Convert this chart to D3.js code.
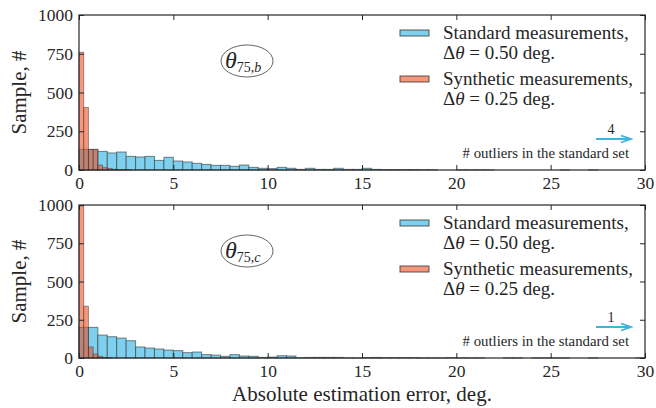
<!DOCTYPE html>
<html><head><meta charset="utf-8">
<script src="https://cdn.jsdelivr.net/npm/d3@7"></script>
<style>
html,body{margin:0;padding:0;background:#fff;}
svg text{font-family:"Liberation Serif","Times New Roman",Tinos,"DejaVu Serif",serif !important;}
</style></head>
<body><svg id="c" width="656" height="408"></svg>
<script>
// ---------- data ----------
const xTicks = [0,5,10,15,20,25,30];
const yTicks = [0,250,500,750,1000];
const stdBinWidth = 0.5;
const synBinWidth = 0.25;
// panel (b): standard measurements, counts per 0.5 deg bin from 0 to 30
const stdB = [133,133,120,110,116,88,84,88,62,82,
              58,52,43,36,30,30,24,32,17,11,
              9,17,11,4,11,4,4,11,4,4,
              11,4,3,3,3,3,2,2,0,0,
              1,1,1,1,0,0,0,0,0,0,
              0,1,0,0,1,0,0,0,0,0];
// panel (b): synthetic measurements, counts per 0.25 deg bin
const synB = [760,404,133,133,32,15,9,5,3,2,1];
// panel (c)
const stdC = [200,200,150,139,130,113,72,65,59,52,
              48,35,39,22,19,11,22,13,11,4,
              6,15,13,2,4,4,4,4,1,1,
              3,4,2,2,2,2,1,1,1,2,
              1,1,1,0,0,1,1,0,1,1,
              1,1,0,0,1,0,0,0,0,1];
const synC = [993,339,72,26,11,3,1];
const subLabels = ["b","c"];
const outliers = [4,1];
const legendLabels = ["Standard measurements,","Synthetic measurements,"];
const legendDeltas = ["0.50","0.25"];

// ---------- drawing ----------
const svg = d3.select("#c");
const axisCol = "#262626";
const blueFill = "rgb(125,208,238)";
const orangeFill = "rgb(240,75,30)";
const arrowCol = "#3cb4dc";
const x = d3.scaleLinear().domain([0,30]).range([79,645]);
const panels = [
  {std:stdB, syn:synB, top:15, bottom:170},
  {std:stdC, syn:synC, top:205, bottom:358}
];

panels.forEach((p,pi)=>{
  const y = d3.scaleLinear().domain([0,1000]).range([p.bottom,p.top]);
  const g = svg.append("g");
  const stdData = p.std.map((v,i)=>({v,i})).filter(d=>d.v>0);
  const synData = p.syn.map((v,i)=>({v,i})).filter(d=>d.v>0);
  // standard bars
  g.append("g").selectAll("rect").data(stdData)
   .join("rect")
   .attr("x",d=>x(d.i*stdBinWidth)).attr("width",x(stdBinWidth)-x(0))
   .attr("y",d=>y(d.v)).attr("height",d=>y(0)-y(d.v))
   .attr("fill",blueFill).attr("stroke","#333").attr("stroke-opacity",0.6).attr("stroke-width",1);
  // synthetic bars
  g.append("g").selectAll("rect").data(synData)
   .join("rect")
   .attr("x",d=>x(d.i*synBinWidth)).attr("width",x(synBinWidth)-x(0))
   .attr("y",d=>y(d.v)).attr("height",d=>y(0)-y(d.v))
   .attr("fill",orangeFill).attr("fill-opacity",0.58)
   .attr("stroke","#333").attr("stroke-opacity",0.5).attr("stroke-width",0.9);

  // axes
  const fmt = d3.format("d");
  const ax = g.append("g").attr("transform",`translate(0,${p.bottom})`)
    .call(d3.axisBottom(x).tickValues(xTicks).tickSizeInner(-5).tickSizeOuter(0).tickPadding(7).tickFormat(fmt));
  const axT = g.append("g").attr("transform",`translate(0,${p.top})`)
    .call(d3.axisTop(x).tickValues(xTicks).tickSizeInner(-5).tickSizeOuter(0).tickFormat(""));
  const ay = g.append("g").attr("transform",`translate(${x(0)},0)`)
    .call(d3.axisLeft(y).tickValues(yTicks).tickSizeInner(-5).tickSizeOuter(0).tickPadding(6).tickFormat(fmt));
  const ayR = g.append("g").attr("transform",`translate(${x(30)},0)`)
    .call(d3.axisRight(y).tickValues(yTicks).tickSizeInner(-5).tickSizeOuter(0).tickFormat(""));
  [ax,axT,ay,ayR].forEach(a=>{
    a.select(".domain").remove();
    a.selectAll("line").attr("stroke",axisCol);
    a.selectAll("text").attr("fill",axisCol).attr("font-size","17.5px");
  });
  g.append("rect").attr("x",x(0)).attr("y",p.top).attr("width",x(30)-x(0)).attr("height",p.bottom-p.top)
   .attr("fill","none").attr("stroke",axisCol).attr("stroke-width",1.2);

  // y label
  g.append("text").attr("transform",`translate(26,${(p.top+p.bottom)/2}) rotate(-90)`)
   .attr("text-anchor","middle").attr("font-size","21px").attr("fill",axisCol).text("Sample, #");

  // legend
  const lt = p.top;
  [0,1].forEach(k=>{
    const ly = lt + 18 + k*46;
    g.append("rect").attr("x",400).attr("y",ly-3).attr("width",29).attr("height",6)
     .attr("fill",k===0?blueFill:orangeFill).attr("fill-opacity",k===0?1:0.58)
     .attr("stroke","#333").attr("stroke-opacity",0.8);
    g.append("text").attr("x",443).attr("y",ly+6).attr("font-size","19px").attr("fill",axisCol)
     .text(legendLabels[k]);
    const t2 = g.append("text").attr("x",443).attr("y",ly+26).attr("font-size","19px").attr("fill",axisCol);
    t2.append("tspan").text("Δ");
    t2.append("tspan").attr("font-style","italic").text("θ");
    t2.append("tspan").text(" = " + legendDeltas[k] + " deg.");
  });

  // ellipse label
  const ey = p.top + 46;
  g.append("ellipse").attr("cx",247).attr("cy",ey).attr("rx",26).attr("ry",16)
   .attr("fill","none").attr("stroke","#555").attr("stroke-width",0.9);
  const et = g.append("text").attr("x",225).attr("y",ey+7).attr("fill",axisCol);
  et.append("tspan").attr("font-size","24px").attr("font-style","italic").text("θ");
  et.append("tspan").attr("font-size","14px").attr("dy",4).text("75,");
  et.append("tspan").attr("font-size","14px").attr("font-style","italic").text(subLabels[pi]);

  // outliers annotation
  const arY = p.bottom - 31;
  g.append("line").attr("x1",596).attr("x2",629).attr("y1",arY).attr("y2",arY)
   .attr("stroke",arrowCol).attr("stroke-width",2.2);
  g.append("path").attr("d",`M${621},${arY-3.5} L${631},${arY} L${621},${arY+3.5}`)
   .attr("fill","none").attr("stroke",arrowCol).attr("stroke-width",1.8);
  g.append("text").attr("x",611).attr("y",arY-5).attr("text-anchor","middle").attr("font-size","14px")
   .attr("fill",axisCol).text(outliers[pi]);
  g.append("text").attr("x",629).attr("y",p.bottom-12).attr("text-anchor","end").attr("font-size","14.8px")
   .attr("fill",axisCol).text("# outliers in the standard set");
});

svg.append("text").attr("x",362).attr("y",401).attr("text-anchor","middle").attr("font-size","21px")
  .attr("fill",axisCol).text("Absolute estimation error, deg.");
</script>
</body></html>
